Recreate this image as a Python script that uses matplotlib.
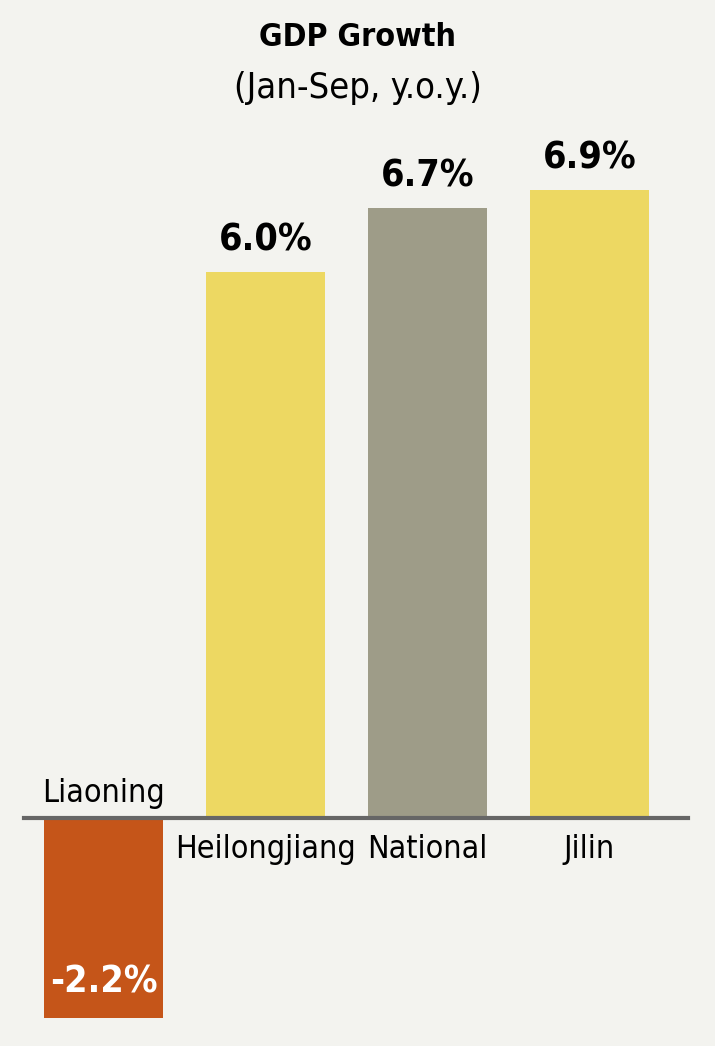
import matplotlib.pyplot as plt

categories = ["Liaoning", "Heilongjiang", "National", "Jilin"]
growth = [-2.2, 6.0, 6.7, 6.9]
value_labels = ["-2.2%", "6.0%", "6.7%", "6.9%"]
colors = ["#C55519", "#EDD862", "#9E9C88", "#EDD862"]

plt.rcParams["font.family"] = ["DejaVu Sans"]
plt.rcParams["font.stretch"] = "condensed"

bg = "#F3F3EF"
fig = plt.figure(figsize=(7.15, 10.46), dpi=100, facecolor=bg)
ax = fig.add_axes([0, 0, 1, 1])
ax.set_facecolor(bg)

x = list(range(len(categories)))
ax.bar(x, growth, width=0.74, color=colors, zorder=2)
ax.axhline(0, xmin=0.034, xmax=0.962, color="#666666", lw=3, zorder=3)

for i, (v, lab, cat) in enumerate(zip(growth, value_labels, categories)):
    if v >= 0:
        ax.text(i, v + 0.15, lab, ha="center", va="bottom", fontsize=27,
                fontweight="bold", color="black")
        ax.text(i, -0.17, cat, ha="center", va="top", fontsize=23, color="black")
    else:
        ax.text(i, v + 0.2, lab, ha="center", va="bottom", fontsize=27,
                fontweight="bold", color="white")
        ax.text(i, 0.1, cat, ha="center", va="bottom", fontsize=23, color="black")

ax.set_xlim(-0.639, 3.775)
ax.set_ylim(-2.505, 8.99)
ax.axis("off")

fig.text(0.5, 1 - 38 / 1046, "GDP Growth", ha="center", va="center",
         fontsize=23, fontweight="bold")
fig.text(0.5, 1 - 88 / 1046, "(Jan-Sep, y.o.y.)", ha="center", va="center",
         fontsize=26)

fig.savefig("out.png", dpi=100, facecolor=bg)
